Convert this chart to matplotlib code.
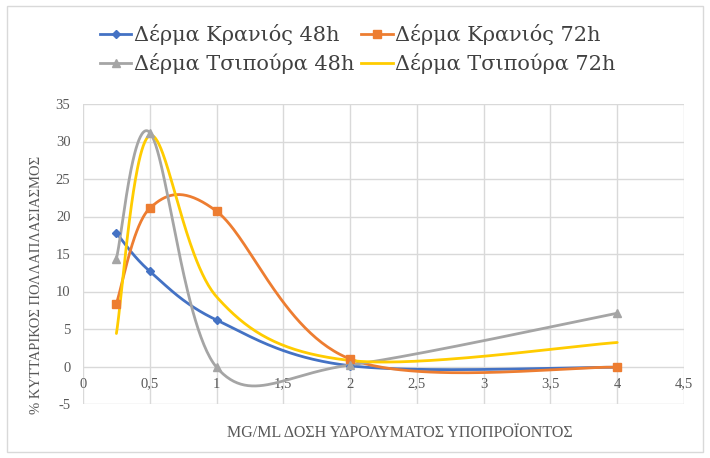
import numpy as np
import matplotlib
matplotlib.use("Agg")
import matplotlib.pyplot as plt
from matplotlib.lines import Line2D
from matplotlib.patches import Rectangle

# Dose (mg/ml) and proliferation (%) for each sample
doses = [0.25, 0.5, 1, 2, 4]
kranios_48h = [17.8, 12.7, 6.2, 0.1, -0.1]
kranios_72h = [8.4, 21.1, 20.7, 1.0, -0.1]
tsipoura_48h = [14.4, 31.2, -0.1, 0.2, 7.1]
tsipoura_72h = [4.4, 30.8, 9.3, 0.8, 3.2]

series_names = ["Δέρμα Κρανιός 48h", "Δέρμα Κρανιός 72h",
                "Δέρμα Τσιπούρα 48h", "Δέρμα Τσιπούρα 72h"]
x_ticks = [0, 0.5, 1, 1.5, 2, 2.5, 3, 3.5, 4, 4.5]
y_ticks = [-5, 0, 5, 10, 15, 20, 25, 30, 35]
x_title = "MG/ML ΔΟΣΗ ΥΔΡΟΛΥΜΑΤΟΣ ΥΠΟΠΡΟΪΟΝΤΟΣ"
y_title = "% ΚΥΤΤΑΡΙΚΟΣ ΠΟΛΛΑΠΛΑΣΙΑΣΜΟΣ"

colors = ["#4472C4", "#ED7D31", "#A5A5A5", "#FFCC00"]
markers = ["D", "s", "^", None]
msizes = [4.5, 6, 6, 0]

SERIF = ["Liberation Serif", "DejaVu Serif"]
WIDE_SERIF = ["DejaVu Serif"]
plt.rcParams["font.family"] = SERIF


def smooth_curve(xs, ys, n=60):
    """Cubic Bezier smoothing through every point (Catmull-Rom style)."""
    pts = np.column_stack([xs, ys]).astype(float)
    ext = np.vstack([pts[0], pts, pts[-1]])
    out = []
    t = np.linspace(0, 1, n)[:, None]
    for i in range(len(pts) - 1):
        p0, p1, p2, p3 = ext[i], ext[i + 1], ext[i + 2], ext[i + 3]
        c1 = p1 + (p2 - p0) / 6.0
        c2 = p2 - (p3 - p1) / 6.0
        seg = ((1 - t) ** 3) * p1 + 3 * ((1 - t) ** 2) * t * c1 \
            + 3 * (1 - t) * t ** 2 * c2 + t ** 3 * p2
        out.append(seg if i == 0 else seg[1:])
    arr = np.vstack(out)
    return arr[:, 0], arr[:, 1]


W, H = 710, 458
fig = plt.figure(figsize=(W / 100, H / 100), dpi=100)
fig.patch.set_facecolor("white")

# plot area in pixel coordinates
left, right, top, bottom = 83, 684, 104, 404
ax = fig.add_axes([left / W, 1 - bottom / H, (right - left) / W, (bottom - top) / H])
ax.set_xlim(0, 4.5)
ax.set_ylim(-5, 35)
ax.set_xticks(x_ticks)
ax.set_yticks(y_ticks)
ax.set_xticklabels([("%g" % v).replace(".", ",") for v in x_ticks])
ax.set_yticklabels(["%g" % v for v in y_ticks])
ax.grid(True, color="#D9D9D9", linewidth=1.0)
ax.set_axisbelow(True)
for s in ax.spines.values():
    s.set_visible(False)
ax.spines["bottom"].set_position(("data", 0))
ax.tick_params(length=0, labelcolor="#595959", labelsize=10.5)
ax.tick_params(axis="x", pad=8)
ax.tick_params(axis="y", pad=9)

all_series = [kranios_48h, kranios_72h, tsipoura_48h, tsipoura_72h]
for ys, c, m, ms in zip(all_series, colors, markers, msizes):
    sx, sy = smooth_curve(doses, ys)
    ax.plot(sx, sy, color=c, linewidth=2.0, solid_capstyle="round", zorder=3)
    if m:
        ax.plot(doses, ys, linestyle="none", marker=m, markersize=ms,
                color=c, zorder=4)

handles = [Line2D([0], [0], color=c, linewidth=2.0, marker=m if m else None,
                  markersize=ms)
           for c, m, ms in zip(colors, markers, msizes)]
# legend fills column by column; order so rows read 48h/72h per sample
order = [0, 2, 1, 3]
leg = fig.legend([handles[i] for i in order], [series_names[i] for i in order],
                 loc="upper left", bbox_to_anchor=(100 / W, 1 - 24 / H), ncol=2,
                 frameon=False, prop={"family": WIDE_SERIF, "size": 15},
                 borderpad=0, borderaxespad=0,
                 handlelength=1.5, handletextpad=0.12, columnspacing=0.35,
                 labelspacing=0.4)
for txt in leg.get_texts():
    txt.set_fontfamily(WIDE_SERIF)
    txt.set_color("#404040")

fig.text(400 / W, 1 - 433 / H, x_title, ha="center", va="center",
         fontsize=11.5, color="#595959", family=SERIF)
fig.text(37 / W, 1 - 285 / H, y_title, ha="center", va="center",
         rotation=90, fontsize=10.5, color="#595959", family=SERIF)

fig.add_artist(Rectangle((7 / W, 1 - 452 / H), 696 / W, 446 / H,
                         transform=fig.transFigure, fill=False,
                         edgecolor="#D9D9D9", linewidth=1))

fig.savefig("out.png", dpi=100)
